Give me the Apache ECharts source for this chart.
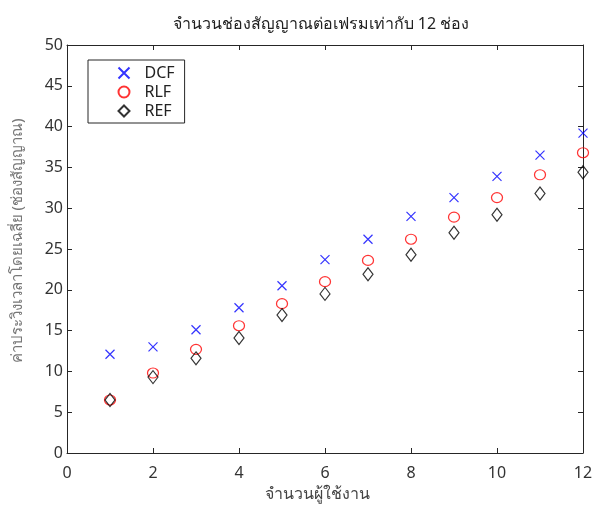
<!DOCTYPE html>
<html>
<head>
<meta charset="utf-8">
<script src="https://cdn.jsdelivr.net/npm/echarts@6/dist/echarts.min.js"></script>
<style>html,body{margin:0;padding:0;background:#fff}#c{width:596px;height:509px}</style>
</head>
<body>
<div id="c"></div>
<script>
var users = [1, 2, 3, 4, 5, 6, 7, 8, 9, 10, 11, 12];
var dcf = [12.1, 13.0, 15.1, 17.8, 20.5, 23.7, 26.2, 29.0, 31.3, 33.9, 36.5, 39.2];
var rlf = [6.5, 9.8, 12.7, 15.6, 18.3, 21.0, 23.6, 26.2, 28.9, 31.3, 34.1, 36.8];
var ref = [6.5, 9.3, 11.6, 14.1, 16.9, 19.5, 21.9, 24.3, 27.0, 29.2, 31.8, 34.4];
var xTicks = [0, 2, 4, 6, 8, 10, 12];
var yTicks = [0, 5, 10, 15, 20, 25, 30, 35, 40, 45, 50];

function pairs(v) { return users.map(function (u, i) { return [u, v[i]]; }); }

var FONT = 'Tahoma, "Noto Sans", "DejaVu Sans", sans-serif';
var axisCol = '#262626';
var tickLen = 5;

var chart = echarts.init(document.getElementById('c'));
chart.setOption({
  animation: false,
  title: {
    text: 'จำนวนช่องสัญญาณต่อเฟรมเท่ากับ 12 ช่อง',
    left: 316, top: 11, textAlign: 'center',
    textStyle: { fontFamily: FONT, fontSize: 16, fontWeight: 'normal', color: '#222' }
  },
  legend: {
    orient: 'vertical', left: 88, top: 60,
    padding: [5, 10, 4, 28],
    itemWidth: 11, itemHeight: 11, itemGap: 3,
    borderColor: '#262626', borderWidth: 1, backgroundColor: '#fff',
    textStyle: { fontFamily: FONT, fontSize: 16, lineHeight: 16, color: '#222', padding: [0, 0, 0, 10] },
    data: ['DCF', 'RLF', 'REF']
  },
  grid: { left: 67, right: 13, top: 45, bottom: 56, containLabel: false },
  xAxis: [{
    type: 'value', min: 0, max: 12, interval: 2,
    name: 'จำนวนผู้ใช้งาน', nameLocation: 'middle', nameGap: 33,
    nameTextStyle: { fontFamily: FONT, fontSize: 16, color: '#444', padding: [0, 16, 0, 0] },
    axisLine: { onZero: false, lineStyle: { color: axisCol, width: 1 } },
    axisTick: { inside: true, length: tickLen, lineStyle: { color: axisCol } },
    axisLabel: { margin: 12, fontFamily: FONT, fontSize: 16, color: '#333',
      formatter: function (v) { return xTicks.indexOf(v) >= 0 ? String(v) : ''; } },
    splitLine: { show: false }
  }, {
    type: 'value', position: 'top', min: 0, max: 12, interval: 2,
    axisLine: { onZero: false, lineStyle: { color: axisCol, width: 1 } },
    axisTick: { inside: true, length: tickLen, lineStyle: { color: axisCol } },
    axisLabel: { show: false }, splitLine: { show: false }
  }],
  yAxis: [{
    type: 'value', min: 0, max: 50, interval: 5,
    name: 'ค่าประวิงเวลาโดยเฉลี่ย (ช่องสัญญาณ)', nameLocation: 'middle', nameGap: 42,
    nameTextStyle: { fontFamily: FONT, fontSize: 15, color: '#777', padding: [0, 0, 0, 16] },
    axisLine: { onZero: false, lineStyle: { color: axisCol, width: 1 } },
    axisTick: { inside: true, length: tickLen, lineStyle: { color: axisCol } },
    axisLabel: { margin: 4, fontFamily: FONT, fontSize: 16, color: '#333',
      formatter: function (v) { return yTicks.indexOf(v) >= 0 ? String(v) : ''; } },
    splitLine: { show: false }
  }, {
    type: 'value', position: 'right', min: 0, max: 50, interval: 5,
    axisLine: { onZero: false, lineStyle: { color: axisCol, width: 1 } },
    axisTick: { inside: true, length: tickLen, lineStyle: { color: axisCol } },
    axisLabel: { show: false }, splitLine: { show: false }
  }],
  series: [{
    name: 'DCF', type: 'scatter', data: pairs(dcf),
    symbol: 'path://M0,0L10,10M10,0L0,10', symbolSize: 9,
    itemStyle: { color: 'none', borderColor: '#0000ff', borderWidth: 1.2 }
  }, {
    name: 'RLF', type: 'scatter', data: pairs(rlf),
    symbol: 'circle', symbolSize: [11, 10],
    itemStyle: { color: 'none', borderColor: '#ff0000', borderWidth: 1.2 }
  }, {
    name: 'REF', type: 'scatter', data: pairs(ref),
    symbol: 'diamond', symbolSize: [10, 13],
    itemStyle: { color: 'none', borderColor: '#000000', borderWidth: 1.2 }
  }]
});
</script>
</body>
</html>
